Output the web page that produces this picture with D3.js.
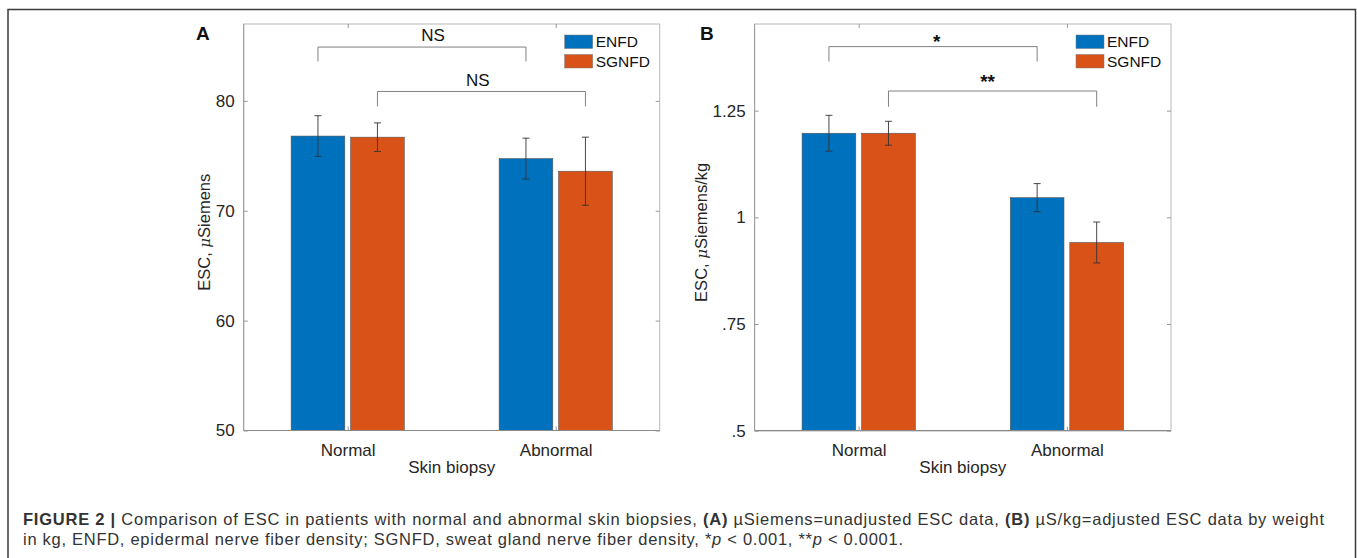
<!DOCTYPE html>
<html>
<head>
<meta charset="utf-8">
<script src="https://cdn.jsdelivr.net/npm/d3@7"></script>
<style>
	body { margin: 0; background: #fff; }
	svg { display: block; }
	text { font-family: Arial, "Liberation Sans", Helvetica, sans-serif; }
</style>
</head>
<body>
<svg id="fig" width="1357" height="558"></svg>
<script>
/* Categories and series */
var groups = ["Normal", "Abnormal"];
var seriesNames = ["ENFD", "SGNFD"];
var seriesColors = ["#0072bd", "#d95319"];

/* Panel A: unadjusted ESC (uSiemens), one value per group */
var aEnfd = [76.8, 74.75];
var aEnfdErr = [1.85, 1.86];
var aSgnfd = [76.7, 73.6];
var aSgnfdErr = [1.3, 3.1];
var aTicks = [50, 60, 70, 80];
var aTickLabels = ["50", "60", "70", "80"];
var aDomain = [50, 87];

/* Panel A significance brackets: which series, bracket top, foot, label */
var aBracketSeries = [0, 1];
var aBracketTop = [84.9, 80.86];
var aBracketFoot = [83.6, 79.5];
var aBracketText = ["NS", "NS"];
var aBracketTextX = [1.41, 1.626];
var aBracketTextY = [85.44, 81.35];

/* Panel B: ESC adjusted by weight (uS/kg) */
var bEnfd = [1.197, 1.046];
var bEnfdErr = [0.042, 0.033];
var bSgnfd = [1.197, 0.941];
var bSgnfdErr = [0.028, 0.048];
var bTicks = [0.5, 0.75, 1, 1.25];
var bTickLabels = [".5", ".75", "1", "1.25"];
var bDomain = [0.5, 1.453];

var bBracketSeries = [0, 1];
var bBracketTop = [1.40, 1.296];
var bBracketFoot = [1.365, 1.259];
var bBracketText = ["*", "**"];
var bBracketTextX = [1.375, 1.619];
var bBracketTextY = [1.397, 1.304];

var svg = d3.select("#fig");

/* Outer figure frame (bottom edge runs off the page) */
svg.append("path")
	.attr("d", "M8,570 L8,9.5 L1355.5,9.5 L1355.5,570")
	.attr("fill", "none")
	.attr("stroke", "#3a3a3a")
	.attr("stroke-width", 1.5);

/* Draw one bar panel */
function drawPanel(p) {
	var x = d3.scaleLinear().domain([0.5, 2.5]).range([p.left, p.right]);
	var y = d3.scaleLinear().domain(p.domain).range([p.bottom, p.top]);
	var g = svg.append("g");
	var offset = 0.143, half = 0.129;
	var axisColor = "#9a9a9a";

	// bars and error bars
	p.means.forEach(function(vals, s) {
		var pos = groups.map(function(d, i) { return i + 1 + (s === 0 ? -offset : offset); });
		g.selectAll(null).data(vals).enter().append("rect")
			.attr("x", function(d, i) { return x(pos[i] - half); })
			.attr("width", function(d, i) { return x(pos[i] + half) - x(pos[i] - half); })
			.attr("y", function(d) { return y(d); })
			.attr("height", function(d) { return y(p.domain[0]) - y(d); })
			.attr("fill", seriesColors[s])
			.attr("stroke", "#555")
			.attr("stroke-width", 0.6);

		var errs = p.errs[s];
		vals.forEach(function(v, i) {
			var cx = x(pos[i]);
			var lo = y(v - errs[i]), hi = y(v + errs[i]);
			g.append("line").attr("x1", cx).attr("x2", cx).attr("y1", lo).attr("y2", hi)
				.attr("stroke", "#333").attr("stroke-width", 0.9);
			[lo, hi].forEach(function(yy) {
				g.append("line").attr("x1", cx - 3.5).attr("x2", cx + 3.5).attr("y1", yy).attr("y2", yy)
					.attr("stroke", "#333").attr("stroke-width", 0.9);
			});
		});
	});

	// axes box
	g.append("rect")
		.attr("x", p.left).attr("y", p.top)
		.attr("width", p.right - p.left).attr("height", p.bottom - p.top)
		.attr("fill", "none").attr("stroke", "#b8b8b8").attr("stroke-width", 1);
	g.append("line")
		.attr("x1", p.left).attr("x2", p.right).attr("y1", p.bottom).attr("y2", p.bottom)
		.attr("stroke", "#8a8a8a").attr("stroke-width", 1.2);
	g.append("line")
		.attr("x1", p.left).attr("x2", p.left).attr("y1", p.top).attr("y2", p.bottom)
		.attr("stroke", axisColor).attr("stroke-width", 1);

	// y axis (ticks inward, labels outside)
	var yAxis = d3.axisLeft(y).tickValues(p.ticks).tickSize(-4).tickPadding(9)
		.tickFormat(function(d, i) { return p.tickLabels[i]; });
	var ya = g.append("g").attr("transform", "translate(" + p.left + ",0)").call(yAxis);
	ya.select(".domain").remove();
	ya.selectAll("line").attr("stroke", axisColor);
	ya.selectAll("text").attr("font-size", 17).attr("fill", "#262626")
		.attr("font-family", "Arial, 'Liberation Sans', sans-serif");
	// right side ticks
	var yr = g.append("g").attr("transform", "translate(" + p.right + ",0)")
		.call(d3.axisRight(y).tickValues(p.ticks).tickSize(-4).tickFormat(""));
	yr.select(".domain").remove();
	yr.selectAll("line").attr("stroke", axisColor);

	// x axis
	var xAxis = d3.axisBottom(x).tickValues([1, 2]).tickSize(-4).tickPadding(13)
		.tickFormat(function(d) { return groups[d - 1]; });
	var xa = g.append("g").attr("transform", "translate(0," + p.bottom + ")").call(xAxis);
	xa.select(".domain").remove();
	xa.selectAll("line").attr("stroke", axisColor);
	xa.selectAll("text").attr("font-size", 17).attr("fill", "#262626")
		.attr("font-family", "Arial, 'Liberation Sans', sans-serif");
	var xt = g.append("g").attr("transform", "translate(0," + p.top + ")")
		.call(d3.axisTop(x).tickValues([1, 2]).tickSize(-4).tickFormat(""));
	xt.select(".domain").remove();
	xt.selectAll("line").attr("stroke", axisColor);

	// axis titles
	g.append("text")
		.attr("x", (p.left + p.right) / 2).attr("y", p.bottom + 42)
		.attr("text-anchor", "middle").attr("font-size", 17).attr("fill", "#262626")
		.text("Skin biopsy");
	var yt = g.append("text")
		.attr("transform", "translate(" + (p.left - p.yTitleGap) + "," + ((p.top + p.bottom) / 2 + 5) + ") rotate(-90)")
		.attr("text-anchor", "middle").attr("font-size", 16.5).attr("fill", "#262626");
	yt.append("tspan").text("ESC, ");
	yt.append("tspan").attr("font-style", "italic").attr("font-family", "'DejaVu Serif', 'Liberation Serif', serif").attr("font-size", 15).text("\u03bc");
	yt.append("tspan").text(p.yUnit);

	// significance brackets
	p.bracketSeries.forEach(function(s, k) {
		var off = s === 0 ? -offset : offset;
		var x1 = x(1 + off), x2 = x(2 + off);
		var yt2 = y(p.bracketTop[k]), yf = y(p.bracketFoot[k]);
		g.append("path")
			.attr("d", "M" + x1 + "," + yf + " L" + x1 + "," + yt2 + " L" + x2 + "," + yt2 + " L" + x2 + "," + yf)
			.attr("fill", "none").attr("stroke", "#808080").attr("stroke-width", 1);
		g.append("text")
			.attr("x", x(p.bracketTextX[k])).attr("y", y(p.bracketTextY[k]))
			.attr("text-anchor", "middle")
			.attr("font-size", p.bracketBold ? 19 : 17)
			.attr("font-weight", p.bracketBold ? "bold" : "normal")
			.attr("fill", "#111")
			.text(p.bracketText[k]);
	});

	// legend
	seriesNames.forEach(function(name, s) {
		var ly = p.top + 11 + s * 19.5;
		g.append("rect")
			.attr("x", p.right - 95).attr("y", ly)
			.attr("width", 28).attr("height", 13.5)
			.attr("fill", seriesColors[s]).attr("stroke", "#777").attr("stroke-width", 0.5);
		g.append("text")
			.attr("x", p.right - 64).attr("y", ly + 12)
			.attr("font-size", 15.5).attr("fill", "#111")
			.text(name);
	});

	// panel letter
	svg.append("text")
		.attr("x", p.letterX).attr("y", 40)
		.attr("font-size", 19).attr("font-weight", "bold").attr("fill", "#111")
		.text(p.letter);
}

drawPanel({
	letter: "A", letterX: 196,
	left: 243.7, right: 659.7, top: 24, bottom: 430.5,
	domain: aDomain, ticks: aTicks, tickLabels: aTickLabels,
	means: [aEnfd, aSgnfd], errs: [aEnfdErr, aSgnfdErr],
	yUnit: "Siemens", yTitleGap: 34,
	bracketSeries: aBracketSeries, bracketTop: aBracketTop, bracketFoot: aBracketFoot,
	bracketText: aBracketText, bracketTextX: aBracketTextX, bracketTextY: aBracketTextY,
	bracketBold: false
});

drawPanel({
	letter: "B", letterX: 700,
	left: 754.6, right: 1171, top: 24, bottom: 430.7,
	domain: bDomain, ticks: bTicks, tickLabels: bTickLabels,
	means: [bEnfd, bSgnfd], errs: [bEnfdErr, bSgnfdErr],
	yUnit: "Siemens/kg", yTitleGap: 48,
	bracketSeries: bBracketSeries, bracketTop: bBracketTop, bracketFoot: bBracketFoot,
	bracketText: bBracketText, bracketTextX: bBracketTextX, bracketTextY: bBracketTextY,
	bracketBold: true
});

/* Caption, stretched to the reference line widths */
var cap1 = svg.append("text").attr("x", 23).attr("y", 525).attr("font-size", 16.5).attr("fill", "#333")
	.attr("textLength", 1301).attr("lengthAdjust", "spacing");
cap1.append("tspan").attr("font-weight", "bold").text("FIGURE 2 | ");
cap1.append("tspan").text("Comparison of ESC in patients with normal and abnormal skin biopsies, ");
cap1.append("tspan").attr("font-weight", "bold").text("(A)");
cap1.append("tspan").text(" \u00b5Siemens=unadjusted ESC data, ");
cap1.append("tspan").attr("font-weight", "bold").text("(B)");
cap1.append("tspan").text(" \u00b5S/kg=adjusted ESC data by weight");

var cap2 = svg.append("text").attr("x", 23).attr("y", 545).attr("font-size", 16.5).attr("fill", "#333")
	.attr("textLength", 880).attr("lengthAdjust", "spacing");
cap2.append("tspan").text("in kg, ENFD, epidermal nerve fiber density; SGNFD, sweat gland nerve fiber density, *");
cap2.append("tspan").attr("font-style", "italic").text("p");
cap2.append("tspan").text(" < 0.001, **");
cap2.append("tspan").attr("font-style", "italic").text("p");
cap2.append("tspan").text(" < 0.0001.");
</script>
</body>
</html>
